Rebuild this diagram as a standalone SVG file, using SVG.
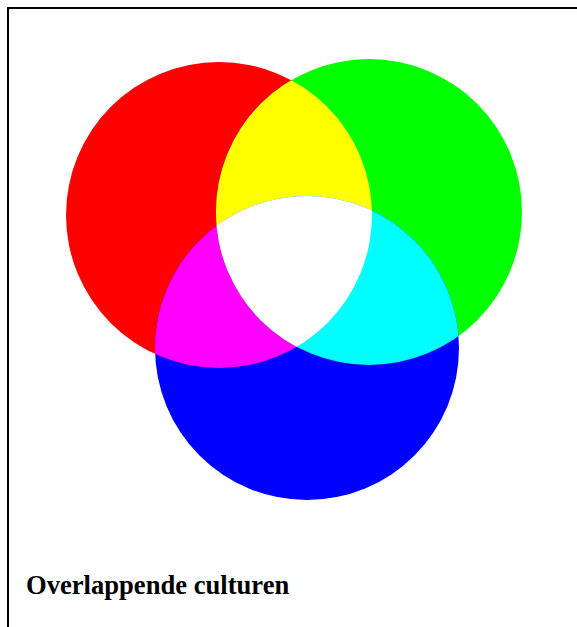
<svg xmlns="http://www.w3.org/2000/svg" width="577" height="627" viewBox="0 0 577 627">
<style>
.cap{font-family:"Liberation Serif","Times New Roman",serif;font-weight:bold;font-size:26.6px;fill:#000}
</style>
<defs>
<clipPath id="cR"><circle cx="219" cy="215" r="153"/></clipPath>
<clipPath id="cG"><circle cx="369" cy="212" r="153"/></clipPath>
</defs>
<rect x="0" y="0" width="577" height="627" fill="#fff"/>
<path d="M8,627 V8 H577" fill="none" stroke="#000" stroke-width="2"/>
<g id="red"><circle cx="219" cy="215" r="153" fill="#ff0000"/></g>
<g id="green"><circle cx="369" cy="212" r="153" fill="#00ff00"/></g>
<g id="blue"><circle cx="307" cy="348" r="152" fill="#0000ff"/></g>
<g id="yellow" clip-path="url(#cR)"><circle cx="369" cy="212" r="153" fill="#ffff00"/></g>
<g id="magenta" clip-path="url(#cR)"><circle cx="307" cy="348" r="152" fill="#ff00ff"/></g>
<g id="cyan" clip-path="url(#cG)"><circle cx="307" cy="348" r="152" fill="#00ffff"/></g>
<g id="white" clip-path="url(#cR)"><g clip-path="url(#cG)"><circle cx="307" cy="348" r="152" fill="#ffffff"/></g></g>
<g id="caption"><text class="cap" x="26" y="594">Overlappende culturen</text></g>
</svg>
